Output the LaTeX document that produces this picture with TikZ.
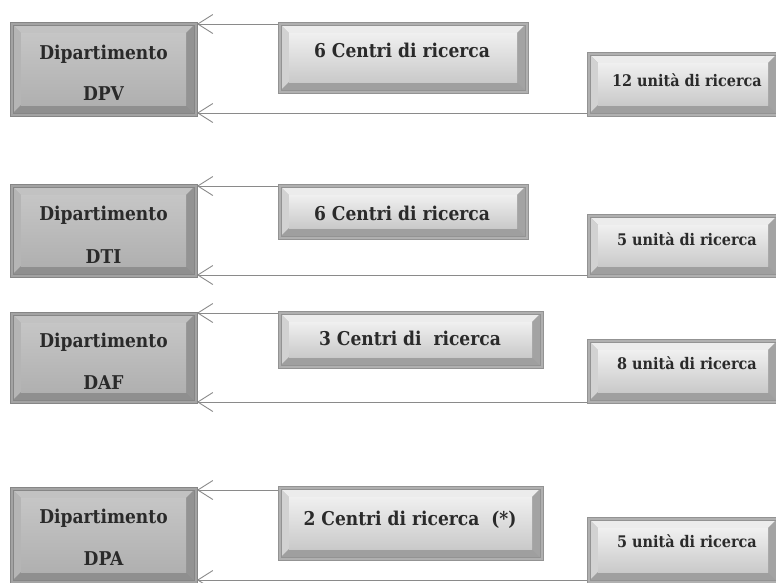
\documentclass[tikz,border=0pt]{standalone}
\usepackage{fontspec}
\setmainfont{DejaVu Serif Condensed}
\usetikzlibrary{arrows.meta,calc}
\definecolor{lineg}{HTML}{8A8A8A}
\definecolor{txtc}{HTML}{2A2A2A}
\def\bo{3pt}
\def\bw{11pt}
\tikzset{
  arr/.style={draw=lineg, line width=0.9pt, -{Straight Barb[length=15pt,width=19pt,line width=0.9pt]}},
  bev/.style n args={8}{fill=#1, draw=#8, line width=0.7pt, inner sep=0pt,
    path picture={
      \fill[#2] let \p1=(path picture bounding box.south west), \p2=(path picture bounding box.north east) in
        (\x1+\bo,\y2-\bo) -- (\x2-\bo,\y2-\bo) -- (\x2-\bw,\y2-\bw) -- (\x1+\bw,\y2-\bw) -- cycle;
      \fill[#3] let \p1=(path picture bounding box.south west), \p2=(path picture bounding box.north east) in
        (\x1+\bo,\y2-\bo) -- (\x1+\bw,\y2-\bw) -- (\x1+\bw,\y1+\bw) -- (\x1+\bo,\y1+\bo) -- cycle;
      \fill[#4] let \p1=(path picture bounding box.south west), \p2=(path picture bounding box.north east) in
        (\x2-\bo,\y2-\bo) -- (\x2-\bw,\y2-\bw) -- (\x2-\bw,\y1+\bw) -- (\x2-\bo,\y1+\bo) -- cycle;
      \fill[#5] let \p1=(path picture bounding box.south west), \p2=(path picture bounding box.north east) in
        (\x1+\bo,\y1+\bo) -- (\x2-\bo,\y1+\bo) -- (\x2-\bw,\y1+\bw) -- (\x1+\bw,\y1+\bw) -- cycle;
      \shade[top color=#6, bottom color=#7] let \p1=(path picture bounding box.south west), \p2=(path picture bounding box.north east) in
        (\x1+\bw,\y1+\bw) rectangle (\x2-\bw,\y2-\bw);
      \draw[#8, line width=0.5pt] let \p1=(path picture bounding box.south west), \p2=(path picture bounding box.north east) in
        (\x1+\bo,\y1+\bo) rectangle (\x2-\bo,\y2-\bo);
    }},
  deptbox/.style={bev={gray!72}{gray!48}{gray!58}{gray!85}{gray!88}{gray!45}{gray!62}{gray!95}},
  lightbox/.style={bev={gray!62}{gray!15}{gray!35}{gray!72}{gray!75}{gray!12}{gray!42}{gray!85}},
  big/.style={text=txtc, font=\bfseries\fontsize{19}{19}\selectfont, anchor=base, inner sep=0pt},
  small/.style={text=txtc, font=\bfseries\fontsize{16}{16}\selectfont, anchor=base, inner sep=0pt},
}
\newcommand{\bx}[6]{\node[#2, minimum width={#5pt-#3pt}, minimum height={#6pt-#4pt}] (#1) at ({(#3+#5)/2},{(#4+#6)/2}) {};}
\begin{document}
\begin{tikzpicture}[x=1pt,y=-1pt]
\useasboundingbox (0,0) rectangle (776,582);
% row 1
\bx{d1}{deptbox}{10}{22}{197}{116}
\bx{c1}{lightbox}{278}{22}{528}{93}
\bx{u1}{lightbox}{587}{52}{779}{116}
\node[big] (d1a) at (103.5,59) {Dipartimento};
\node[big] (d1b) at (103.5,100) {DPV};
\node[big] (c1t) at (402,57) {6 Centri di ricerca};
\node[small] (u1t) at (687,86) {12 unità di ricerca};
% row 2
\bx{d2}{deptbox}{10}{184}{197}{277}
\bx{c2}{lightbox}{278}{184}{528}{239}
\bx{u2}{lightbox}{587}{214}{779}{277}
\node[big] (d2a) at (103.5,220) {Dipartimento};
\node[big] (d2b) at (103.5,263) {DTI};
\node[big] (c2t) at (402,220) {6 Centri di ricerca};
\node[small] (u2t) at (687,245) {5 unità di ricerca};
% row 3
\bx{d3}{deptbox}{10}{312}{197}{403}
\bx{c3}{lightbox}{278}{311}{543}{368}
\bx{u3}{lightbox}{587}{339}{779}{403}
\node[big] (d3a) at (103.5,347) {Dipartimento};
\node[big] (d3b) at (103.5,389) {DAF};
\node[big] (c3t) at (410,345) {3 Centri di\ \ ricerca};
\node[small] (u3t) at (687,369) {8 unità di ricerca};
% row 4
\bx{d4}{deptbox}{10}{487}{197}{583}
\bx{c4}{lightbox}{278}{486}{543}{560}
\bx{u4}{lightbox}{587}{517}{779}{583}
\node[big] (d4a) at (103.5,523) {Dipartimento};
\node[big] (d4b) at (103.5,565) {DPA};
\node[big] (c4t) at (410,525) {2 Centri di ricerca\ \ (*)};
\node[small] (u4t) at (687,547) {5 unità di ricerca};
% connectors
\coordinate (t1) at (197,24);   \coordinate (b1) at (197,113);
\coordinate (t2) at (197,186);  \coordinate (b2) at (197,275);
\coordinate (t3) at (197,313);  \coordinate (b3) at (197,402);
\coordinate (t4) at (197,490);  \coordinate (b4) at (197,580);
\draw[arr] (c1.west |- t1) -- (t1);
\draw[arr] (u1.west |- b1) -- (b1);
\draw[arr] (c2.west |- t2) -- (t2);
\draw[arr] (u2.west |- b2) -- (b2);
\draw[arr] (c3.west |- t3) -- (t3);
\draw[arr] (u3.west |- b3) -- (b3);
\draw[arr] (c4.west |- t4) -- (t4);
\draw[arr] (u4.west |- b4) -- (b4);
\end{tikzpicture}
\end{document}
